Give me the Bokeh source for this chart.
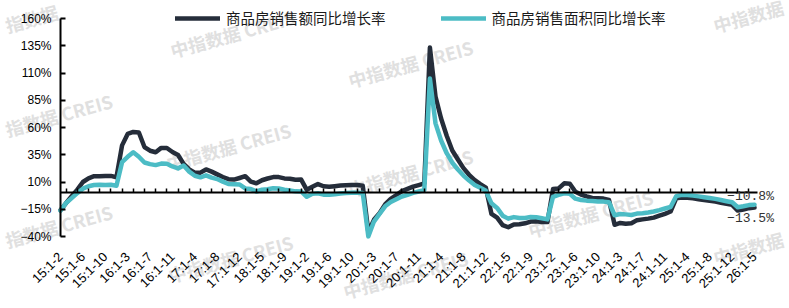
import math
from bokeh.plotting import figure
from bokeh.models import (FixedTicker, LinearAxis, Range1d, Legend, LegendItem, Label)
from bokeh.embed import file_html
from bokeh.resources import INLINE

# ---------------- data ----------------
year_prefixes = ["15", "16", "17", "18", "19", "20", "21", "22", "23", "24", "25"]
month_spans = ["1-2", "1-3", "1-4", "1-5", "1-6", "1-7", "1-8", "1-9", "1-10", "1-11", "1-12"]
last_year_spans = ["26:1-2", "26:1-3", "26:1-4", "26:1-5"]
categories = [f"{y}:{m}" for y in year_prefixes for m in month_spans] + last_year_spans

# 商品房销售额同比增长率 (%)
amount_growth = [
    -15.8, -9.3, -3.1, 3.0, 10.0, 13.4, 15.3, 15.3, 15.6, 15.6, 14.4,        # 2015
    43.6, 54.1, 55.9, 55.4, 42.1, 38.7, 37.3, 41.3, 41.2, 37.5, 34.8,        # 2016
    26.6, 21.5, 18.6, 18.6, 21.5, 19.5, 17.0, 14.6, 12.6, 12.2, 13.7,        # 2017
    15.3, 10.4, 8.8, 11.6, 13.2, 14.5, 14.5, 13.3, 13.0, 12.1, 12.2,         # 2018
    2.8, 5.6, 8.1, 6.1, 5.6, 6.2, 6.7, 7.1, 7.3, 7.3, 6.5,                   # 2019
    -35.9, -24.7, -18.6, -10.6, -5.4, -2.1, 1.6, 3.7, 5.8, 7.2, 8.7,         # 2020
    133.4, 88.5, 68.2, 52.4, 38.9, 30.7, 22.7, 16.6, 11.8, 8.0, 4.8,         # 2021
    -19.3, -22.7, -29.5, -31.5, -28.9, -28.8, -27.9, -26.3, -26.1, -26.6, -26.7,  # 2022
    3.5, 4.1, 8.8, 8.4, 1.1, -1.5, -3.2, -4.6, -4.9, -5.2, -6.5,             # 2023
    -29.3, -27.6, -28.3, -27.9, -25.0, -24.3, -23.6, -22.7, -20.9, -19.2, -17.1,  # 2024
    -5.0, -4.3, -4.5, -5.0, -5.8, -6.5, -7.3, -8.0, -9.0, -10.0, -11.0,      # 2025
    -16.2, -15.2, -14.0, -13.5,                                               # 2026
]

# 商品房销售面积同比增长率 (%)
area_growth = [
    -16.3, -9.2, -4.8, -0.2, 3.9, 6.1, 7.2, 7.5, 7.2, 7.4, 6.5,              # 2015
    28.2, 33.1, 37.3, 33.2, 27.9, 26.4, 25.5, 26.9, 26.8, 24.3, 22.5,        # 2016
    25.1, 19.5, 15.7, 14.3, 16.1, 14.0, 12.7, 10.3, 8.2, 7.9, 7.7,           # 2017
    4.1, 3.6, 1.3, 2.9, 3.3, 4.2, 4.0, 2.9, 2.2, 1.4, 1.3,                   # 2018
    -3.6, -0.9, -0.3, -1.6, -1.8, -1.3, -0.6, -0.1, 0.1, 0.2, -0.1,          # 2019
    -39.9, -26.3, -19.3, -12.3, -8.4, -5.8, -3.3, -1.8, 0.0, 1.3, 2.6,       # 2020
    104.9, 63.8, 48.1, 36.4, 27.7, 21.5, 15.9, 11.3, 7.3, 4.8, 1.9,          # 2021
    -9.6, -13.8, -20.9, -23.6, -22.2, -23.1, -23.0, -22.2, -22.3, -23.3, -24.3,   # 2022
    -3.6, -1.8, -0.4, -0.9, -5.3, -6.5, -7.1, -7.5, -7.8, -8.0, -8.5,        # 2023
    -20.5, -19.4, -19.7, -20.3, -19.0, -18.6, -18.0, -17.1, -15.8, -14.3, -12.9,  # 2024
    -3.0, -1.8, -2.0, -2.5, -3.2, -4.0, -4.7, -5.5, -6.5, -7.6, -8.6,        # 2025
    -13.2, -12.3, -11.2, -10.8,                                               # 2026
]

series_names = ["商品房销售额同比增长率", "商品房销售面积同比增长率"]
y_ticks = [-40, -15, 10, 35, 60, 85, 110, 135, 160]
watermark_text = "中指数据 CREIS"

x = list(range(len(categories)))
n = len(categories)

# ---------------- layout constants (pixels) ----------------
W, H = 789, 308
DARK = "#252d3a"
TEAL = "#4cbcc5"
TICK_FONT = "Liberation Sans"
PX_PER_PT = 5.597        # horizontal pixels per category
PX_PER_PCT = 1.09        # vertical pixels per percentage point
X0_PX = 60               # pixel of first category / y axis
Y0_PX = 192.4            # pixel of the 0% line

y_lo, y_hi = y_ticks[0], y_ticks[-1]

# the frame covers the whole canvas; axes are placed at fixed data locations
p = figure(width=W, height=H, output_backend="svg", toolbar_location=None,
           x_range=Range1d(-X0_PX / PX_PER_PT, (W - X0_PX) / PX_PER_PT),
           y_range=Range1d((Y0_PX - H) / PX_PER_PCT, Y0_PX / PX_PER_PCT),
           min_border=0, min_border_left=0, min_border_right=0,
           min_border_top=0, min_border_bottom=0)
p.outline_line_color = None
p.xgrid.grid_line_color = None
p.ygrid.grid_line_color = None
p.background_fill_color = "white"
p.border_fill_color = "white"

# watermarks (screen px -> data)
def px2x(px):
    return (px - X0_PX) / PX_PER_PT

def py2y(py):
    return (Y0_PX - py) / PX_PER_PCT

wm_style = dict(angle=0.27, text_baseline="middle", text_font="Noto Sans CJK SC",
                text_font_style="bold", text_font_size="18px", text_color="#e0e0e0",
                level="underlay")
# full marks (centred)
for cx, cy in [(232, 33), (228, 146), (230, 258),
               (410, 63), (410, 172), (405, 274), (590, 213)]:
    p.add_layout(Label(x=px2x(cx), y=py2y(cy), text=watermark_text, text_align="center", **wm_style))
# marks whose first character falls off the left edge
for lx, ly in [(5, 129), (5, 240)]:
    p.add_layout(Label(x=px2x(lx), y=py2y(ly), text=watermark_text[1:], text_align="left", **wm_style))
# corner mark: only its middle characters show
p.add_layout(Label(x=px2x(5), y=py2y(25), text=watermark_text[1:4], text_align="left", **wm_style))
# marks whose latin part falls off the right edge
for lx, ly in [(713, 25), (713, 257)]:
    p.add_layout(Label(x=px2x(lx), y=py2y(ly), text=watermark_text.split(" ")[0], text_align="left", **wm_style))

r_amount = p.line(x, amount_growth, line_color=DARK, line_width=4.5, line_join="round", line_cap="round")
r_area = p.line(x, area_growth, line_color=TEAL, line_width=4.5, line_join="round", line_cap="round")

# y axis at the first category
yax = p.yaxis[0]
yax.fixed_location = 0
yax.ticker = FixedTicker(ticks=y_ticks, minor_ticks=[])
yax.bounds = (y_lo, y_hi)
yax.major_label_overrides = {t: f"{t}%".replace("-", "\u2212") for t in y_ticks}
yax.axis_line_width = 2
yax.axis_line_color = "black"
yax.major_tick_line_width = 2
yax.major_tick_in = 5
yax.major_tick_out = 0
yax.minor_tick_line_color = None
yax.major_label_standoff = 9
yax.major_label_text_font = TICK_FONT
yax.major_label_text_font_size = "12px"
yax.major_label_text_color = "black"

# bottom category labels (below the -40% level)
label_idx = list(range(0, n, 4))
xax = p.xaxis[0]
xax.fixed_location = y_lo
xax.ticker = FixedTicker(ticks=label_idx, minor_ticks=[])
xax.major_label_overrides = {i: categories[i] for i in label_idx}
xax.major_label_orientation = math.pi / 4
xax.axis_line_color = None
xax.major_tick_line_color = None
xax.minor_tick_line_color = None
xax.major_label_standoff = 12
xax.major_label_text_font = TICK_FONT
xax.major_label_text_font_size = "13px"
xax.major_label_text_color = "black"

# zero line axis with tick marks
tick_idx = list(range(1, n, 2))
zax = LinearAxis(fixed_location=0, ticker=FixedTicker(ticks=tick_idx, minor_ticks=[]),
                 major_label_overrides={i: "" for i in tick_idx},
                 bounds=(0, n - 0.5))
zax.axis_line_width = 2
zax.axis_line_color = "black"
zax.major_tick_line_width = 1.5
zax.major_tick_line_color = "black"
zax.major_tick_in = 4
zax.major_tick_out = 0
zax.minor_tick_line_color = None
zax.major_label_standoff = 0
zax.major_label_text_font_size = "1px"
p.add_layout(zax, "below")

# end annotations
ann_font = "Liberation Mono"
p.add_layout(Label(x=x[-1], y=area_growth[-1], text=f"{area_growth[-1]:.1f}%".replace("-", "\u2212"),
                   text_align="center", text_baseline="middle", x_offset=-4, y_offset=8,
                   text_font=ann_font, text_font_size="13px", text_color="#333333"))
p.add_layout(Label(x=x[-1], y=amount_growth[-1], text=f"{amount_growth[-1]:.1f}%".replace("-", "\u2212"),
                   text_align="center", text_baseline="middle", x_offset=-4, y_offset=-11,
                   text_font=ann_font, text_font_size="13px", text_color="#333333"))

# legend: top-left corner at (175, 8) px; location is its bottom-left from frame bottom-left
legend = Legend(items=[LegendItem(label=series_names[0], renderers=[r_amount]),
                       LegendItem(label=series_names[1], renderers=[r_area])],
                orientation="horizontal", location=(175, H - 28),
                glyph_width=45, glyph_height=20, label_height=20, label_standoff=6,
                spacing=55, padding=0, margin=0,
                border_line_color=None, background_fill_alpha=0,
                label_text_font="Noto Sans CJK SC", label_text_font_size="14.5px",
                label_text_color="#1a1a1a")
p.add_layout(legend)

open("out.html", "w").write(file_html(p, INLINE))
